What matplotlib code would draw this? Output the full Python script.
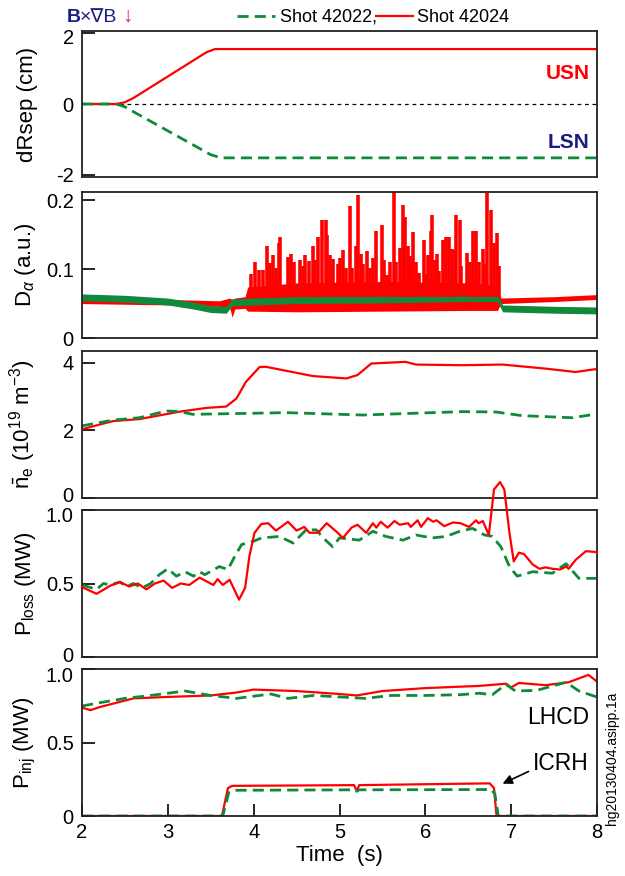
import matplotlib
matplotlib.use('Agg')
import matplotlib.pyplot as plt
from matplotlib.lines import Line2D
from matplotlib.transforms import ScaledTranslation

plt.rcParams['font.family'] = ['Liberation Sans', 'DejaVu Sans']
plt.rcParams['mathtext.fontset'] = 'custom'
plt.rcParams['mathtext.rm'] = 'Liberation Sans'
plt.rcParams['mathtext.it'] = 'Liberation Sans:italic'
plt.rcParams['mathtext.bf'] = 'Liberation Sans:bold'
plt.rcParams['axes.unicode_minus'] = False

RED = '#ff0000'
GREEN = '#108a3a'
NAVY = '#1c1c80'

# ---- dRsep (cm)
t_sep_24 = [2.0, 2.4, 2.5, 2.6, 3.45, 3.55, 8.0]
sep_24 = [0.0, 0.0, 0.05, 0.17, 1.46, 1.55, 1.55]
t_sep_22 = [2.0, 2.4, 2.5, 2.6, 3.5, 3.62, 8.0]
sep_22 = [0.0, 0.0, -0.08, -0.22, -1.43, -1.52, -1.52]

# ---- D_alpha (a.u.): envelopes of the fast signal plus ELM spikes
t_da_22 = [2.0, 2.5, 3.0, 3.3, 3.5, 3.68, 3.75, 4.5, 5.5, 6.5, 6.84, 6.9, 7.5, 8.0]
da_22_lo = [0.054, 0.052, 0.048, 0.042, 0.037, 0.036, 0.047, 0.050, 0.051, 0.053, 0.053, 0.038, 0.036, 0.035]
da_22_hi = [0.064, 0.062, 0.058, 0.052, 0.047, 0.046, 0.057, 0.060, 0.061, 0.063, 0.063, 0.048, 0.046, 0.045]

t_da_24 = [2.0, 3.0, 3.6, 3.72, 3.75, 3.78, 3.9, 3.93, 4.5, 5.5, 6.5, 6.84, 6.88, 7.5, 8.0]
da_24_lo = [0.050, 0.048, 0.046, 0.044, 0.030, 0.042, 0.043, 0.039, 0.038, 0.039, 0.040, 0.040, 0.050, 0.053, 0.056]
da_24_hi = [0.058, 0.056, 0.054, 0.058, 0.056, 0.058, 0.060, 0.074, 0.080, 0.082, 0.080, 0.077, 0.058, 0.060, 0.063]

elm_t = [3.97, 4.01, 4.06, 4.11, 4.15, 4.19, 4.22, 4.26, 4.29, 4.31, 4.40, 4.43, 4.47,
         4.54, 4.57, 4.60, 4.64, 4.69, 4.72, 4.75, 4.80, 4.84, 4.85, 4.89, 4.93, 4.98,
         5.01, 5.04, 5.08, 5.12, 5.15, 5.19, 5.21, 5.25, 5.27, 5.32, 5.36, 5.39, 5.43,
         5.50, 5.52, 5.55, 5.59, 5.63, 5.66, 5.70, 5.74, 5.76, 5.80, 5.82, 5.86, 5.89,
         5.93, 5.98, 6.01, 6.03, 6.07, 6.08, 6.11, 6.14, 6.16, 6.21, 6.24, 6.27, 6.31,
         6.34, 6.36, 6.40, 6.42, 6.49, 6.52, 6.55, 6.59, 6.62, 6.67, 6.69, 6.72, 6.76,
         6.80, 6.83, 6.86]
elm_h = [0.093, 0.110, 0.099, 0.099, 0.133, 0.109, 0.121, 0.101, 0.138, 0.146, 0.117, 0.122, 0.111,
         0.113, 0.105, 0.120, 0.112, 0.133, 0.113, 0.146, 0.172, 0.171, 0.150, 0.121, 0.115, 0.107,
         0.116, 0.128, 0.101, 0.192, 0.101, 0.134, 0.207, 0.122, 0.107, 0.127, 0.102, 0.116, 0.155,
         0.164, 0.113, 0.092, 0.110, 0.212, 0.110, 0.130, 0.193, 0.175, 0.133, 0.119, 0.154, 0.110,
         0.094, 0.142, 0.093, 0.120, 0.156, 0.179, 0.113, 0.122, 0.097, 0.142, 0.147, 0.146, 0.129,
         0.128, 0.178, 0.171, 0.105, 0.123, 0.111, 0.156, 0.155, 0.110, 0.129, 0.107, 0.210, 0.186,
         0.138, 0.152, 0.105]

# ---- line-averaged density (1e19 m^-3)
t_ne_24 = [2.0, 2.36, 2.67, 3.14, 3.45, 3.68, 3.80, 3.91, 4.07, 4.15, 4.69, 5.08, 5.21,
           5.37, 5.77, 5.89, 6.43, 6.90, 7.40, 7.75, 7.97, 8.0]
ne_24 = [2.03, 2.27, 2.33, 2.55, 2.66, 2.70, 2.94, 3.43, 3.87, 3.87, 3.60, 3.53, 3.63,
         3.97, 4.02, 3.94, 3.92, 3.94, 3.82, 3.72, 3.80, 3.80]
t_ne_22 = [2.0, 2.36, 2.67, 2.98, 3.14, 3.29, 4.38, 5.27, 6.43, 6.82, 7.13, 7.71, 7.97, 8.0]
ne_22 = [2.13, 2.30, 2.37, 2.57, 2.55, 2.47, 2.52, 2.45, 2.55, 2.54, 2.43, 2.37, 2.47, 2.47]

# ---- P_loss (MW)
t_pl_24 = [2.0, 2.17, 2.33, 2.44, 2.55, 2.65, 2.75, 2.85, 2.95, 3.05, 3.15, 3.25, 3.37,
           3.53, 3.58, 3.64, 3.72, 3.83, 3.90, 3.95, 4.01, 4.09, 4.17, 4.26, 4.40, 4.50,
           4.59, 4.65, 4.75, 4.85, 4.96, 5.04, 5.14, 5.21, 5.31, 5.39, 5.43, 5.48, 5.56,
           5.64, 5.70, 5.80, 5.83, 5.91, 5.95, 6.03, 6.09, 6.13, 6.22, 6.32, 6.41, 6.51,
           6.59, 6.62, 6.67, 6.74, 6.80, 6.87, 6.92, 6.98, 7.03, 7.09, 7.15, 7.25, 7.33,
           7.40, 7.48, 7.57, 7.64, 7.67, 7.75, 7.87, 7.97, 8.0]
pl_24 = [0.475, 0.43, 0.485, 0.51, 0.48, 0.50, 0.46, 0.50, 0.52, 0.47, 0.50, 0.49, 0.54,
         0.49, 0.53, 0.49, 0.525, 0.39, 0.47, 0.685, 0.845, 0.905, 0.91, 0.86, 0.92, 0.86,
         0.885, 0.845, 0.845, 0.91, 0.855, 0.81, 0.88, 0.90, 0.845, 0.91, 0.88, 0.92, 0.88,
         0.925, 0.90, 0.91, 0.885, 0.93, 0.885, 0.945, 0.92, 0.93, 0.89, 0.915, 0.91, 0.885,
         0.93, 0.91, 0.925, 0.83, 1.14, 1.19, 1.14, 0.845, 0.65, 0.71, 0.70, 0.63, 0.60,
         0.61, 0.60, 0.595, 0.615, 0.60, 0.66, 0.72, 0.715, 0.71]
t_pl_22 = [2.0, 2.17, 2.25, 2.33, 2.44, 2.52, 2.6, 2.7, 2.8, 2.9, 3.0, 3.1, 3.2, 3.3,
           3.37, 3.43, 3.60, 3.70, 3.78, 3.86, 4.01, 4.09, 4.30, 4.46, 4.61, 4.73, 4.81,
           4.92, 5.00, 5.23, 5.39, 5.54, 5.74, 5.89, 6.08, 6.24, 6.40, 6.55, 6.69, 6.78,
           6.88, 6.98, 7.07, 7.25, 7.48, 7.64, 7.79, 7.97, 8.0]
pl_22 = [0.49, 0.46, 0.50, 0.49, 0.51, 0.48, 0.50, 0.47, 0.50, 0.56, 0.60, 0.55, 0.58, 0.55,
         0.58, 0.56, 0.615, 0.595, 0.685, 0.765, 0.79, 0.81, 0.82, 0.775, 0.865, 0.865, 0.81,
         0.75, 0.81, 0.795, 0.855, 0.82, 0.795, 0.83, 0.81, 0.82, 0.855, 0.875, 0.83, 0.82,
         0.75, 0.615, 0.55, 0.58, 0.57, 0.635, 0.535, 0.535, 0.535]

# ---- P_inj (MW): LHCD and ICRH
t_lh_24 = [2.0, 2.1, 2.2, 2.3, 2.6, 3.0, 3.5, 3.8, 4.0, 4.5, 5.0, 5.2, 5.5, 6.0, 6.63,
           6.94, 7.0, 7.09, 7.4, 7.67, 7.9, 8.0]
lh_24 = [0.737, 0.72, 0.74, 0.755, 0.80, 0.81, 0.82, 0.84, 0.86, 0.85, 0.83, 0.82, 0.85,
         0.87, 0.885, 0.90, 0.875, 0.905, 0.89, 0.91, 0.96, 0.915]
t_lh_22 = [2.0, 2.2, 2.5, 2.8, 3.2, 3.5, 3.8, 4.2, 4.4, 4.7, 5.0, 5.3, 5.6, 6.0, 6.4,
           6.63, 6.78, 6.94, 7.05, 7.3, 7.64, 7.79, 7.97, 8.0]
lh_22 = [0.748, 0.77, 0.80, 0.82, 0.85, 0.82, 0.80, 0.83, 0.80, 0.82, 0.81, 0.80, 0.82,
         0.82, 0.825, 0.835, 0.825, 0.895, 0.85, 0.855, 0.91, 0.85, 0.815, 0.81]

t_ic_24 = [2.0, 3.63, 3.70, 3.75, 5.17, 5.2, 5.23, 6.75, 6.8, 6.83, 8.0]
ic_24 = [0.0, 0.0, 0.19, 0.205, 0.21, 0.17, 0.21, 0.222, 0.19, 0.0, 0.0]
t_ic_22 = [2.0, 3.64, 3.71, 3.77, 5.17, 5.2, 5.23, 6.77, 6.81, 6.85, 8.0]
ic_22 = [0.0, 0.0, 0.16, 0.175, 0.178, 0.168, 0.178, 0.18, 0.15, 0.0, 0.0]

fig = plt.figure(figsize=(6.25, 8.76), dpi=100)

left, width = 82 / 625, 515 / 625
H = 876
boxes = [(31, 177), (192, 338), (351, 498), (510, 657), (669, 816)]
axes = []
for top, bot in boxes:
    ax = fig.add_axes([left, 1 - bot / H, width, (bot - top) / H])
    ax.set_xlim(2, 8)
    for s in ax.spines.values():
        s.set_color('#222222')
        s.set_linewidth(1.3)
    ax.tick_params(direction='in', length=9, width=1.2, labelsize=14.5, pad=6,
                   right=False, top=False)
    axes.append(ax)

dash = dict(color=GREEN, lw=2.0, ls=(0, (4, 2.2)))
solid = dict(color=RED, lw=1.6)


def nudge(ax, idx, dy):
    # shift one y tick label vertically by dy pixels
    lab = ax.yaxis.get_major_ticks()[idx].label1
    lab.set_transform(lab.get_transform() + ScaledTranslation(0, dy / 100, fig.dpi_scale_trans))


# dRsep
ax = axes[0]
ax.axhline(0, color='black', lw=0.9, ls=(0, (3, 3)))
ax.plot(t_sep_24, sep_24, **solid)
ax.plot(t_sep_22, sep_22, **dash)
ax.set_ylim(-2.06, 2.06)
ax.set_yticks([-2, 0, 2])
ax.set_ylabel('dRsep (cm)', fontsize=16)
ax.text(7.91, 0.87, 'USN', color=RED, fontsize=15, weight='bold', ha='right', va='center')
ax.text(7.91, -1.10, 'LSN', color=NAVY, fontsize=15, weight='bold', ha='right', va='center')
nudge(ax, 2, -3)

# D_alpha
ax = axes[1]
ax.fill_between(t_da_24, da_24_lo, da_24_hi, color=RED, lw=0)
ax.vlines(elm_t, 0.06, elm_h, color=RED, lw=2.6)
ax.fill_between(t_da_22, da_22_lo, da_22_hi, color=GREEN, lw=0)
ax.set_ylim(0, 0.212)
ax.set_yticks([0, 0.1, 0.2])
ax.set_yticklabels(['0', '0.1', '0.2'])
ax.set_ylabel(r'D$_\alpha$ (a.u.)', fontsize=16)

# density
ax = axes[2]
ax.plot(t_ne_24, ne_24, **solid)
ax.plot(t_ne_22, ne_22, **dash)
ax.set_ylim(0, 4.34)
ax.set_yticks([0, 2, 4])
ax.set_ylabel(r'$\bar{\mathrm{n}}_\mathrm{e}$ (10$^{19}$ m$^{\mathrm{-3}}$)', fontsize=16)
nudge(ax, 0, 4)

# P_loss
ax = axes[3]
ax.plot(t_pl_24, pl_24, clip_on=False, zorder=5, **solid)
ax.plot(t_pl_22, pl_22, **dash)
ax.set_ylim(0, 1.0)
ax.set_yticks([0, 0.5, 1.0])
ax.set_yticklabels(['0', '0.5', '1.0'])
ax.set_ylabel(r'P$_\mathrm{loss}$ (MW)', fontsize=16)
nudge(ax, 0, 3)
nudge(ax, 2, -5)

# P_inj
ax = axes[4]
ax.plot(t_lh_24, lh_24, **solid)
ax.plot(t_lh_22, lh_22, **dash)
ax.plot(t_ic_24, ic_24, **solid)
ax.plot(t_ic_22, ic_22, **dash)
ax.set_ylim(0, 1.0)
ax.set_yticks([0, 0.5, 1.0])
ax.set_yticklabels(['0', '0.5', '1.0'])
ax.set_ylabel(r'P$_\mathrm{inj}$ (MW)', fontsize=16)
nudge(ax, 2, -5)
ax.text(7.91, 0.67, 'LHCD', fontsize=16.5, ha='right', va='center')
ax.annotate('ICRH', xy=(6.90, 0.22), xytext=(7.25, 0.355), fontsize=16.5,
            ha='left', va='center',
            arrowprops=dict(arrowstyle='-|>', color='black', lw=1.2,
                            mutation_scale=14, shrinkA=1, shrinkB=0,
                            relpos=(0, 0.25)))
ax.set_xticks(range(2, 9))
ax.tick_params(axis='x', pad=5)
ax.set_xlabel('Time  (s)', fontsize=16, labelpad=2)

for ax in axes[:4]:
    ax.set_xticks([])
for ax in axes:
    ax.yaxis.set_label_coords(-0.085, 0.5)

# header: field direction and shot key
y_hdr = 1 - 22 / H
fig.text(67 / 625, y_hdr, 'B', color=NAVY, fontsize=14, weight='bold', va='baseline')
fig.text(80 / 625, y_hdr, '\u00d7\u2207B', color=NAVY, fontsize=14, va='baseline')
fig.text(122 / 625, y_hdr, '\u2193', color='#e8177c', fontsize=15, va='baseline')

y_leg = 1 - 16 / H
fig.add_artist(Line2D([237 / 625, 275 / 625], [y_leg, y_leg], transform=fig.transFigure, **dash))
fig.text(280 / 625, y_hdr, 'Shot 42022,', fontsize=13, va='baseline')
fig.add_artist(Line2D([376 / 625, 413 / 625], [y_leg, y_leg], transform=fig.transFigure, **solid))
fig.text(417 / 625, y_hdr, 'Shot 42024', fontsize=13, va='baseline')

fig.text(612 / 625, 1 - 758 / H, 'hg20130404.asipp.1a', fontsize=10,
         rotation=90, ha='center', va='center')

fig.savefig('out.png', dpi=100)
